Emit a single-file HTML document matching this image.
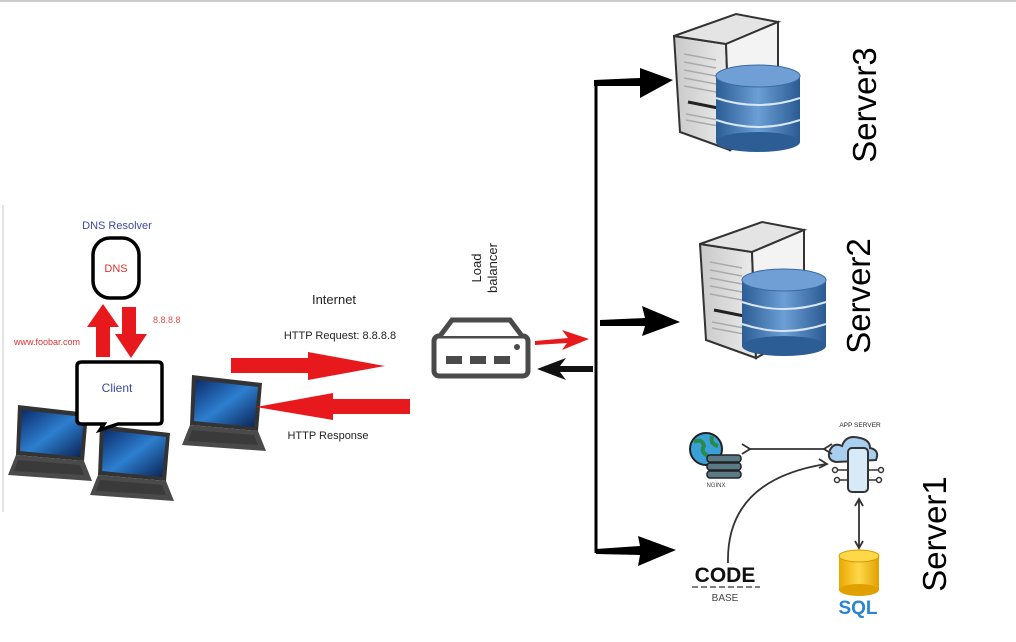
<!DOCTYPE html>
<html><head><meta charset="utf-8"><style>
html,body{margin:0;padding:0;background:#fff;width:1016px;height:642px;overflow:hidden}
svg{display:block}
text{font-family:"Liberation Sans",sans-serif}
</style></head><body>
<svg width="1016" height="642" viewBox="0 0 1016 642" xmlns="http://www.w3.org/2000/svg">
<defs>
<linearGradient id="scr" x1="0" y1="0" x2="1" y2="1"><stop offset="0" stop-color="#0b2a6a"/><stop offset="0.5" stop-color="#2d7fd0"/><stop offset="1" stop-color="#0a2050"/></linearGradient>
<linearGradient id="tw" x1="0" y1="0" x2="1" y2="0"><stop offset="0" stop-color="#c9c9c9"/><stop offset="1" stop-color="#ececec"/></linearGradient>
<linearGradient id="db" x1="0" y1="0" x2="1" y2="0"><stop offset="0" stop-color="#2c5d95"/><stop offset="0.5" stop-color="#6b9fd6"/><stop offset="1" stop-color="#2a5a92"/></linearGradient>
<linearGradient id="gold" x1="0" y1="0" x2="1" y2="0"><stop offset="0" stop-color="#e8a800"/><stop offset="0.5" stop-color="#ffd84a"/><stop offset="1" stop-color="#e0a000"/></linearGradient>
<g id="laptop">
<polygon points="10,0 80,8 76,56 8,50" fill="#333"/>
<polygon points="14,5 76,12 72,52 12,46" fill="url(#scr)"/>
<polygon points="8,50 76,56 84,76 0,70" fill="#4a4a4a"/>
<polygon points="10,55 72,60 76,70 6,66" fill="#3a3a3a"/>
</g>
<g id="tower">
<polygon points="0,22 52,30 56,136 6,118" fill="url(#tw)" stroke="#333" stroke-width="2"/>
<polygon points="0,22 62,0 104,8 52,30" fill="#e4e4e4" stroke="#333" stroke-width="2"/>
<polygon points="52,30 104,8 104,110 56,136" fill="#f3f3f3" stroke="#333" stroke-width="2"/>
<g stroke="#aaa" stroke-width="1.5"><line x1="10" y1="40" x2="42" y2="46"/><line x1="10" y1="48" x2="42" y2="54"/><line x1="10" y1="56" x2="42" y2="62"/><line x1="10" y1="64" x2="42" y2="70"/><line x1="10" y1="72" x2="42" y2="78"/><line x1="12" y1="100" x2="44" y2="106"/><line x1="12" y1="106" x2="44" y2="112"/></g>
<line x1="14" y1="88" x2="44" y2="94" stroke="#222" stroke-width="3"/>
</g>
<g id="dbc">
<rect x="0" y="10" width="84" height="66" fill="url(#db)"/>
<ellipse cx="42" cy="76" rx="42" ry="10" fill="#2c5d95"/>
<ellipse cx="42" cy="10" rx="42" ry="11" fill="#6f9fd4" stroke="#3a6aa0"/>
<path d="M0 32 Q42 46 84 32 M0 54 Q42 68 84 54" stroke="#d8e6f5" stroke-width="2" fill="none"/>
</g>
</defs>
<line x1="0" y1="1" x2="1016" y2="1" stroke="#ccc" stroke-width="2"/>
<line x1="3" y1="205" x2="3" y2="512" stroke="#e3e3e3" stroke-width="2"/>

<text x="117" y="229" font-size="11" fill="#3a4aa0" text-anchor="middle">DNS Resolver</text>
<rect x="93" y="238" width="46" height="60" rx="17" fill="#fff" stroke="#000" stroke-width="3.5"/>
<text x="116" y="272" font-size="11" fill="#d33" text-anchor="middle">DNS</text>
<polygon points="103,304 119,327 110,327 110,357 96,357 96,327 87,327" fill="#e8191c"/>
<polygon points="122,307 136,307 136,334 147,334 131,358 115,334 122,334" fill="#e8191c"/>
<text x="153" y="323" font-size="9" fill="#e05050">8.8.8.8</text>
<text x="14" y="345" font-size="9" fill="#d33">www.foobar.com</text>

<use href="#laptop" x="8" y="405"/>
<use href="#laptop" x="182" y="375"/>
<use href="#laptop" x="90" y="425"/>
<path d="M82 362 H158 Q162 362 162 366 V420 Q162 424 158 424 H118 L100 430 L104 424 H82 Q77 424 77 420 V366 Q77 362 82 362 Z" fill="#fff" stroke="#000" stroke-width="3.5"/>
<text x="117" y="392" font-size="12" fill="#3a4aa0" text-anchor="middle">Client</text>

<text x="334" y="304" font-size="13" fill="#222" text-anchor="middle">Internet</text>
<text x="340" y="339" font-size="11" fill="#222" text-anchor="middle">HTTP Request: 8.8.8.8</text>
<polygon points="231,358 308,358 308,352 385,366 308,380 308,373 231,373" fill="#e8191c"/>
<polygon points="410,399 333,399 333,393 256,407 333,420 333,414 410,414" fill="#e8191c"/>
<text x="328" y="439" font-size="11" fill="#222" text-anchor="middle">HTTP Response</text>

<text transform="translate(481,268) rotate(-90)" font-size="13" fill="#222" text-anchor="middle">Load</text>
<text transform="translate(497,268) rotate(-90)" font-size="13" fill="#222" text-anchor="middle">balancer</text>
<rect x="434" y="336" width="94" height="40" rx="5" fill="#fff" stroke="#4a4a4a" stroke-width="5"/>
<path d="M440 336 L452 320 H510 L522 336" fill="#fff" stroke="#4a4a4a" stroke-width="5"/>
<g fill="#4a4a4a"><rect x="446" y="356" width="16" height="8"/><rect x="470" y="356" width="16" height="8"/><rect x="494" y="356" width="16" height="8"/><circle cx="517" cy="347" r="3"/></g>
<polygon points="535,341 568,338 562,330 589,339 562,350 567,343 535,345" fill="#e8191c"/>
<polygon points="593,366 560,366 566,358 537,369 566,380 560,372 593,372" fill="#111"/>

<path d="M596 82 V553" stroke="#000" stroke-width="3" fill="none"/>
<polygon points="594,80 640,78 640,68 673,80 640,98 640,86 594,86" fill="#000"/>
<polygon points="600,320 645,318 642,306 680,322 642,336 645,326 600,326" fill="#000"/>
<polygon points="596,549 640,546 638,536 676,550 638,566 640,555 596,554" fill="#000"/>

<use href="#tower" x="674" y="14"/>
<use href="#dbc" x="716" y="66"/>
<use href="#tower" x="700" y="222"/>
<use href="#dbc" x="742" y="270"/>
<text transform="translate(876,105) rotate(-90)" font-size="33" fill="#000" text-anchor="middle">Server3</text>
<text transform="translate(870,296) rotate(-90)" font-size="33" fill="#000" text-anchor="middle">Server2</text>
<text transform="translate(946,534) rotate(-90)" font-size="33" fill="#000" text-anchor="middle">Server1</text>

<circle cx="706" cy="449" r="16" fill="#3aa0d8" stroke="#222" stroke-width="2"/>
<path d="M694 442 q8 -4 10 4 q-4 6 4 10 M712 436 q-2 8 6 10" stroke="#2a8a4a" stroke-width="4" fill="none"/>
<g fill="#5a7a86" stroke="#222" stroke-width="1.5"><rect x="707" y="455" width="34" height="7" rx="3"/><rect x="707" y="463" width="34" height="7" rx="3"/><rect x="707" y="471" width="34" height="7" rx="3"/></g>
<text x="716" y="487" font-size="6" fill="#444" text-anchor="middle">NGINX</text>
<text x="860" y="427" font-size="6.5" fill="#222" text-anchor="middle">APP SERVER</text>
<path d="M836 462 q-10 -2 -6 -12 q4 -8 12 -4 q4 -12 18 -8 q10 2 10 10 q10 2 6 12 z" fill="#a8cff0" stroke="#333" stroke-width="2"/>
<rect x="848" y="448" width="20" height="44" rx="4" fill="#d8eaf8" stroke="#333" stroke-width="2"/>
<g stroke="#333" stroke-width="1.5" fill="none"><path d="M848 470 h-10 M848 480 h-8 M868 470 h10 M868 480 h8"/><circle cx="835" cy="470" r="2.5"/><circle cx="837" cy="480" r="2.5"/><circle cx="881" cy="470" r="2.5"/><circle cx="879" cy="480" r="2.5"/></g>
<g stroke="#333" stroke-width="1.8" fill="none">
<line x1="748" y1="449" x2="826" y2="449"/>
<path d="M742 444 l8 5 l-8 5 M832 444 l-8 5 l8 5" />
<path d="M728 563 Q726 480 826 464"/><path d="M819 459 l8 5 l-8 4"/>
<line x1="859" y1="500" x2="859" y2="546"/>
<path d="M855 506 l4 -7 l4 7 M855 541 l4 7 l4 -7"/>
</g>
<rect x="839" y="556" width="40" height="34" fill="url(#gold)"/>
<ellipse cx="859" cy="590" rx="20" ry="6" fill="#e0a000"/>
<ellipse cx="859" cy="556" rx="20" ry="6" fill="#ffd84a" stroke="#d89a00"/>
<text x="858" y="614" font-size="19" font-weight="bold" fill="#2a84d0" text-anchor="middle">SQL</text>
<text x="725" y="582" font-size="21" font-weight="bold" fill="#111" text-anchor="middle" font-family="Liberation Mono, monospace">CODE</text>
<line x1="692" y1="587" x2="760" y2="587" stroke="#333" stroke-width="1.2" stroke-dasharray="6 3"/>
<text x="725" y="601" font-size="10" fill="#444" text-anchor="middle">BASE</text>
</svg>
</body></html>
